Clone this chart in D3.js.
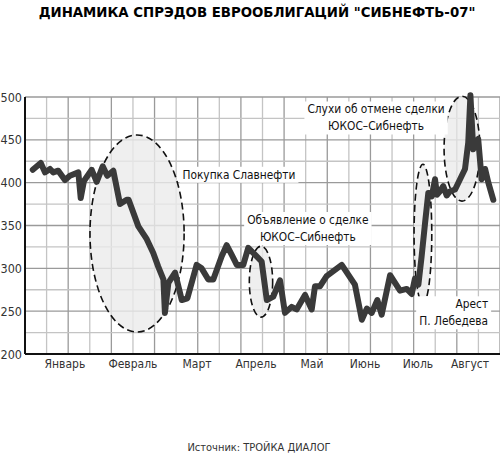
<!DOCTYPE html>
<html>
<head>
<meta charset="utf-8">
<script src="https://cdn.jsdelivr.net/npm/d3@7"></script>
<style>
  body { margin: 0; background: #fff; }
  svg text { font-family: "DejaVu Sans Condensed", "Liberation Sans Narrow", "Open Sans", sans-serif; }
</style>
</head>
<body>
<svg id="chart" width="500" height="460"></svg>
<script>
// position along the x axis, in grid columns (0..22)
const xPos = [0.36, 0.73, 0.93, 1.16, 1.31, 1.54, 1.85, 2.08, 2.47, 2.58, 2.73, 3.09, 3.32, 3.60, 3.81, 4.09,
    4.40, 4.71, 4.80, 5.25, 5.64, 5.94, 6.17, 6.41, 6.48, 6.64, 6.95, 7.26, 7.52, 7.95, 8.18, 8.49, 8.72,
    9.11, 9.34, 9.57, 9.81, 10.11, 10.34, 10.73, 10.96, 11.20, 11.50, 11.81, 12.04, 12.35, 12.58, 12.97,
    13.28, 13.43, 13.66, 13.97, 14.67, 15.28, 15.60, 15.83, 16.06, 16.32, 16.52, 16.91, 17.37, 17.68,
    17.91, 18.06, 18.22, 18.37, 18.53, 18.68, 18.84, 18.99, 19.08, 19.22, 19.37, 19.53, 19.69, 19.92,
    20.15, 20.38, 20.53, 20.63, 20.76, 20.84, 20.99, 21.15, 21.31, 21.46, 21.69];
// spread, b.p.
const spreads = [415, 423, 412, 416, 412, 414, 403, 408, 412, 382, 402, 415, 401, 419, 408, 414,
    375, 380, 380, 349, 334, 318, 302, 287, 248, 283, 295, 263, 265, 304, 300, 287, 287,
    314, 327, 316, 304, 304, 324, 314, 308, 263, 267, 286, 248, 255, 252, 269,
    252, 279, 279, 291, 304, 281, 240, 253, 248, 263, 246, 292, 274, 276,
    270, 288, 281, 314, 353, 388, 384, 404, 386, 390, 396, 385, 390, 392,
    404, 416, 447, 502, 439, 445, 451, 404, 416, 400, 380];

const months = ['Январь', 'Февраль', 'Март', 'Апрель', 'Май', 'Июнь', 'Июль', 'Август'];
const monthPos = [1.85, 5.0, 7.97, 10.7, 13.29, 15.75, 18.2, 20.61];
const yTicks = [200, 250, 300, 350, 400, 450, 500];

// highlighted periods: centre (column, spread) and half sizes
const ellipses = [
    {cx: 5.19, cy: 340.7, rx: 2.18, ry: 115},
    {cx: 10.93, cy: 284.4, rx: 0.54, ry: 41.4},
    {cx: 18.43, cy: 340, rx: 0.41, ry: 81.5},
    {cx: 20.24, cy: 439.7, rx: 0.83, ry: 61.2}
];

const notes = [
    {lines: ['Покупка Славнефти'], x: 9.91, y: 409.8, anchor: 'middle'},
    {lines: ['Объявление о сделке', 'ЮКОС–Сибнефть'], x: 13.1, y: 357, anchor: 'middle'},
    {lines: ['Слухи об отмене сделки', 'ЮКОС–Сибнефть'], x: 16.26, y: 486, anchor: 'middle'},
    {lines: ['Арест', 'П. Лебедева'], x: 21.45, y: 258.6, anchor: 'end'}
];

let svg = d3.select('#chart');

let x = d3.scaleLinear().domain([0, 22]).range([25, 500]);
let y = d3.scaleLinear().domain([200, 500]).range([354, 97]);

svg.append('text')
    .attr('x', 257).attr('y', 17)
    .attr('text-anchor', 'middle')
    .style('font-size', '14.8px').style('font-weight', 'bold')
    .text('ДИНАМИКА СПРЭДОВ ЕВРООБЛИГАЦИЙ "СИБНЕФТЬ-07"');

// grid
let grid = svg.append('g');
grid.selectAll('line.v')
    .data(d3.range(1, 23))
    .enter().append('line')
    .attr('x1', d => x(d)).attr('x2', d => x(d))
    .attr('y1', y(500)).attr('y2', y(200))
    .attr('stroke', d => d % 2 === 0 ? '#9a9a9a' : '#c4c4c4')
    .attr('stroke-width', 1.3);
grid.selectAll('line.h')
    .data(d3.range(225, 501, 25))
    .enter().append('line')
    .attr('x1', x(0)).attr('x2', x(22))
    .attr('y1', d => y(d)).attr('y2', d => y(d))
    .attr('stroke', d => d % 50 === 0 ? '#9a9a9a' : '#c4c4c4')
    .attr('stroke-width', 1.3);

// shaded ellipses
let ell = svg.append('g');
ell.selectAll('ellipse')
    .data(ellipses)
    .enter().append('ellipse')
    .attr('cx', d => x(d.cx))
    .attr('cy', d => y(d.cy))
    .attr('rx', d => x(d.rx) - x(0))
    .attr('ry', d => y(0) - y(d.ry))
    .attr('fill', '#ebebeb')
    .attr('fill-opacity', 0.8)
    .attr('stroke', '#111')
    .attr('stroke-width', 1.6)
    .attr('stroke-dasharray', '7,4');

// notes with white boxes
notes.forEach(n => {
    let g = svg.append('g');
    let texts = n.lines.map((t, i) => g.append('text')
        .attr('x', x(n.x))
        .attr('y', y(n.y) + i * 17 + 4.5)
        .attr('text-anchor', n.anchor)
        .style('font-size', '11.8px')
        .style('fill', '#111')
        .text(t));
    let boxes = texts.map(t => t.node().getBBox());
    let x0 = d3.min(boxes, b => b.x) - 3, x1 = d3.max(boxes, b => b.x + b.width) + 3;
    let y0 = d3.min(boxes, b => b.y) - 1, y1 = d3.max(boxes, b => b.y + b.height) + 1;
    g.insert('rect', 'text')
        .attr('x', x0).attr('y', y0)
        .attr('width', x1 - x0).attr('height', y1 - y0)
        .attr('fill', '#fff');
});

// spread line
let line = d3.line()
    .x((d, i) => x(xPos[i]))
    .y(d => y(d));
svg.append('path')
    .datum(spreads)
    .attr('d', line)
    .attr('fill', 'none')
    .attr('stroke', '#3a3a3a')
    .attr('stroke-width', 6)
    .attr('stroke-linejoin', 'round')
    .attr('stroke-linecap', 'round');

// axes
svg.append('line')
    .attr('x1', x(0)).attr('x2', x(0))
    .attr('y1', y(500)).attr('y2', y(200))
    .attr('stroke', '#111').attr('stroke-width', 2);
svg.append('line')
    .attr('x1', x(0)).attr('x2', x(22))
    .attr('y1', y(200)).attr('y2', y(200))
    .attr('stroke', '#111').attr('stroke-width', 2.2);

svg.selectAll('text.ytick')
    .data(yTicks)
    .enter().append('text')
    .attr('class', 'ytick')
    .attr('x', 22)
    .attr('y', d => y(d) + 4.5)
    .attr('text-anchor', 'end')
    .style('font-size', '12.5px')
    .style('fill', '#333')
    .text(d => d);

svg.selectAll('text.month')
    .data(months)
    .enter().append('text')
    .attr('class', 'month')
    .attr('x', (d, i) => x(monthPos[i]))
    .attr('y', 368)
    .attr('text-anchor', 'middle')
    .style('font-size', '12px')
    .style('fill', '#333')
    .text(d => d);

svg.append('text')
    .attr('x', 259).attr('y', 451)
    .attr('text-anchor', 'middle')
    .style('font-size', '11px')
    .style('fill', '#333')
    .text('Источник: ТРОЙКА ДИАЛОГ');
</script>
</body>
</html>
